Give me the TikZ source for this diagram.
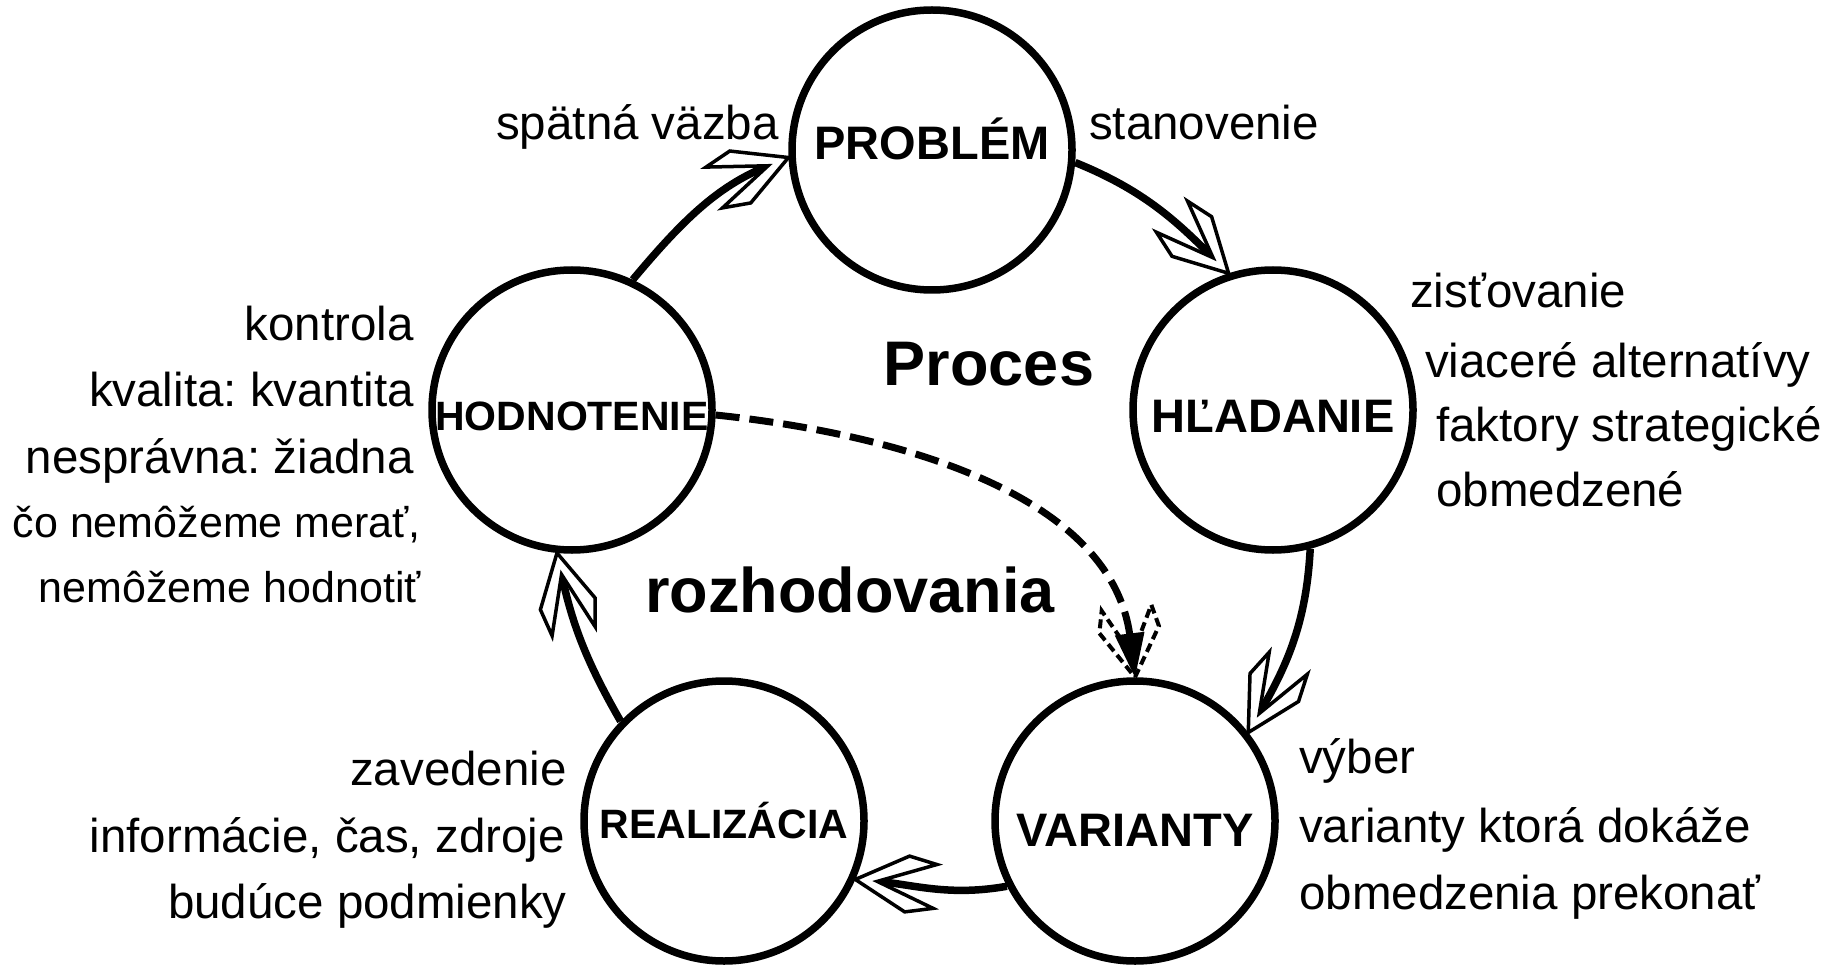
\documentclass[tikz,border=0pt]{standalone}
\usepackage{fontspec}
\setmainfont{Liberation Sans}
\usetikzlibrary{arrows.meta}
\frenchspacing

\pgfdeclarearrow{
  name=HBarb,
  setup code={
    \pgfarrowssettipend{0pt}
    \pgfarrowssetlineend{-22pt}
    \pgfarrowssetbackend{-80pt}
    \pgfarrowssetvisualbackend{-22pt}
    \pgfarrowsupperhullpoint{0pt}{0pt}
    \pgfarrowsupperhullpoint{-80pt}{28pt}
  },
  drawing code={
    \pgfsetdash{}{0pt}
    \pgfsetlinewidth{3.5pt}
    \pgfsetmiterjoin
    \pgfpathmoveto{\pgfpoint{0pt}{0pt}}
    \pgfpathlineto{\pgfpoint{-52pt}{28pt}}
    \pgfpathlineto{\pgfpoint{-80pt}{22pt}}
    \pgfpathlineto{\pgfpoint{-22pt}{0pt}}
    \pgfpathlineto{\pgfpoint{-80pt}{-22pt}}
    \pgfpathlineto{\pgfpoint{-52pt}{-28pt}}
    \pgfpathclose
    \pgfsetfillcolor{white}
    \pgfusepathqfillstroke
  },
}

\pgfdeclarearrow{
  name=DBarb,
  setup code={
    \pgfarrowssettipend{0pt}
    \pgfarrowssetlineend{-40pt}
    \pgfarrowssetbackend{-70pt}
    \pgfarrowssetvisualbackend{-40pt}
    \pgfarrowsupperhullpoint{0pt}{0pt}
    \pgfarrowsupperhullpoint{-70pt}{30pt}
  },
  drawing code={
    \pgfsetlinewidth{4pt}
    \pgfsetmiterjoin
    \pgfsetdash{{9pt}{5pt}}{0pt}
    \pgfpathmoveto{\pgfpoint{0pt}{0pt}}
    \pgfpathlineto{\pgfpoint{-48pt}{30pt}}
    \pgfpathlineto{\pgfpoint{-70pt}{25pt}}
    \pgfpathlineto{\pgfpoint{-22pt}{0pt}}
    \pgfpathlineto{\pgfpoint{-70pt}{-25pt}}
    \pgfpathlineto{\pgfpoint{-48pt}{-30pt}}
    \pgfpathclose
    \pgfusepathqstroke
    \pgfsetdash{}{0pt}
    \pgfpathmoveto{\pgfpoint{0pt}{0pt}}
    \pgfpathlineto{\pgfpoint{-44pt}{15pt}}
    \pgfpathlineto{\pgfpoint{-44pt}{-15pt}}
    \pgfpathclose
    \pgfsetfillcolor{black}
    \pgfusepathqfill
  },
}

\tikzset{
  circ/.style={circle, draw, line width=7.5pt, minimum size=280pt, inner sep=0pt,
    font=\bfseries\fontsize{47}{50}\selectfont},
  circs/.style={circ, font=\bfseries\fontsize{41}{44}\selectfont},
  th/.style={text height=#1, text depth=0pt},
  conn/.style={line width=7.5pt, -HBarb},
  dconn/.style={line width=7pt, dash pattern=on 24pt off 10pt, -DBarb},
  lbl/.style={font=\fontsize{47.5}{55}\selectfont, inner sep=0pt},
  lbls/.style={font=\fontsize{43}{50}\selectfont, inner sep=0pt},
  big/.style={font=\bfseries\fontsize{63}{70}\selectfont, inner sep=0pt},
}

\begin{document}
\begin{tikzpicture}[x=1pt, y=1pt]
\useasboundingbox (0,0) rectangle (1846,-965);

\node[circ, th=20pt]  (prob) at (932,-150) {PROBLÉM};
\node[circ, th=44pt]  (hlad) at (1273,-410) {HĽADANIE};
\node[circ, th=50pt]  (vari) at (1135,-821) {VARIANTY};
\node[circs] (real) at (724,-821) {REALIZÁCIA};
\node[circs, th=41pt] (hodn) at (572,-410) {HODNOTENIE};

\draw[conn] (prob.-5) to[out=-22, in=135] (hlad.108);
\draw[conn] (hlad.-75) to[out=-93, in=60] (vari.38);
\draw[conn] (vari.-153) to[out=-170, in=-5] (real.-24);
\draw[conn] (real.136) to[out=120, in=-78] (hodn.-96);
\draw[conn] (hodn.65) to[out=50, in=202] (prob.183);

\draw[dconn] (hodn.-2) to[out=-6, in=97, looseness=0.95] (vari.90);

\node[lbl, anchor=base east] (t1) at (779,-140) {spätná väzba};
\node[lbl, anchor=base west] (t2) at (1089,-140) {stanovenie};
\node[lbl, anchor=base west] (t3) at (1410,-308) {zisťovanie};
\node[lbl, anchor=base west] (t4) at (1425,-377) {viaceré alternatívy};
\node[lbl, anchor=base west] (t5) at (1436,-441) {faktory strategické};
\node[lbl, anchor=base west] (t6) at (1436,-506) {obmedzené};
\node[lbl, anchor=base west] (t7) at (1299,-773) {výber};
\node[lbl, anchor=base west] (t8) at (1299,-842) {varianty ktorá dokáže};
\node[lbl, anchor=base west] (t9) at (1299,-909) {obmedzenia prekonať};
\node[lbl, anchor=base east] (t10) at (567,-785) {zavedenie};
\node[lbl, anchor=base east] (t11) at (565,-852) {informácie, čas, zdroje};
\node[lbl, anchor=base east] (t12) at (567,-918) {budúce podmienky};
\node[lbl, anchor=base east] (t13) at (414,-341) {kontrola};
\node[lbl, anchor=base east] (t14) at (414,-406) {kvalita: kvantita};
\node[lbl, anchor=base east] (t15) at (414,-473) {nesprávna: žiadna};
\node[lbls, anchor=base east] (t16) at (421,-537) {čo nemôžeme merať,};
\node[lbls, anchor=base east] (t17) at (421,-602) {nemôžeme hodnotiť};
\node[big, anchor=base] (t18) at (989,-385) {Proces};
\node[big, anchor=base] (t19) at (850,-612) {rozhodovania};
\end{tikzpicture}
\end{document}
